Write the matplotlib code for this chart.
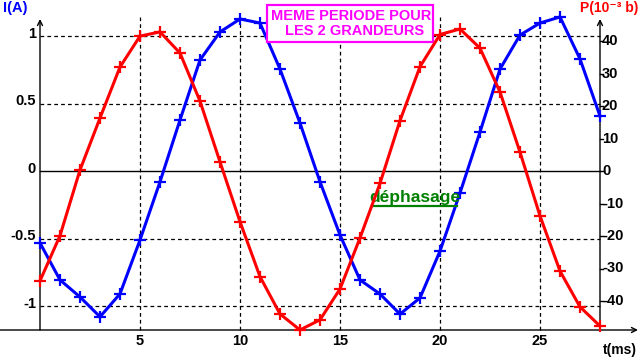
import matplotlib
matplotlib.use("Agg")
import matplotlib.pyplot as plt
from matplotlib.patches import Rectangle
import numpy as np

plt.rcParams['font.family'] = ['Liberation Sans', 'DejaVu Sans']
plt.rcParams['font.weight'] = 'bold'

# ---- data ----
t_ms = list(range(0, 29))
P_red = [-33.8, -19.9, 0.3, 16.3, 32.0, 41.5, 42.8, 36.3, 21.5, 2.8,
         -15.6, -32.5, -44.0, -48.9, -45.8, -36.3, -20.6, -3.8, 15.5, 32.1,
         42.0, 43.7, 37.8, 24.3, 5.8, -13.8, -30.8, -41.8, -47.7]
I_blue = [-0.533, -0.807, -0.933, -1.08, -0.91, -0.511, -0.08, 0.378, 0.822, 1.03,
          1.126, 1.096, 0.755, 0.355, -0.08, -0.474, -0.807, -0.911, -1.06, -0.94,
          -0.593, -0.163, 0.289, 0.755, 1.007, 1.096, 1.141, 0.83, 0.407]
x_ticks = [5, 10, 15, 20, 25]
I_ticks = [1, 0.5, 0, -0.5, -1]
I_tick_labels = ['1', '0.5', '0', '-0.5', '-1']
P_ticks = [40, 30, 20, 10, 0, -10, -20, -30, -40]
P_tick_labels = ['40', '30', '20', '10', '0', '-10', '-20', '-30', '-40']

# ---- layout helpers (pixel -> data) ----
W, H = 640, 360
def tx(px):
    return (px - 40) / 20.0
def iy(py):
    return (171 - py) / 135.0
K = 135 / 3.25  # P units per I unit

fig = plt.figure(figsize=(6.4, 3.6), dpi=100)
ax = fig.add_axes([0, 0, 1, 1])
ax.set_xlim(tx(0), tx(W))
ax.set_ylim(iy(H), iy(0))
ax.axis('off')
ax2 = ax.twinx()
ax2.set_ylim(iy(H) * K, iy(0) * K)
ax2.axis('off')

dash = (0, (3, 2.5))
# grid
for xv in x_ticks:
    ax.plot([xv, xv], [iy(330), iy(17)], color='black', lw=0.9, ls=dash, zorder=1)
for yv in [1, 0.5, -0.5, -1]:
    ax.plot([0, 28], [yv, yv], color='black', lw=0.9, ls=dash, zorder=1)

# axes lines
ax.plot([0, 28], [0, 0], color='black', lw=1.0, zorder=1)
arrow = dict(arrowstyle='->', lw=1.0, color='black', shrinkA=0, shrinkB=0, mutation_scale=9)
ax.annotate('', xy=(0, iy(19)), xytext=(0, iy(330)), arrowprops=arrow, zorder=2)
ax.annotate('', xy=(28, iy(19)), xytext=(28, iy(330)), arrowprops=arrow, zorder=2)
ax.annotate('', xy=(tx(638), iy(330)), xytext=(tx(0), iy(330)), arrowprops=arrow, zorder=2)

# curves
ax2.plot(t_ms, P_red, color='#ff0000', lw=2.2, zorder=3,
         marker='+', markersize=8, mew=1.6)
ax.plot(t_ms, I_blue, color='#0000ff', lw=2.2, zorder=4,
        marker='+', markersize=8, mew=1.6)

# tick labels
fs = 10.5
for v, lab in zip(I_ticks, I_tick_labels):
    ax.text(tx(36), v + 2.5 / 135, lab, ha='right', va='center', fontsize=fs,
            fontweight='bold', color='black')
for v, lab in zip(P_ticks, P_tick_labels):
    ax2.plot([28, tx(603)], [v, v], color='black', lw=1.0)
    ax2.text(tx(602), v, lab, ha='left', va='center', fontsize=fs,
             fontweight='bold', color='black')
for v in x_ticks:
    ax.text(v, iy(341), str(v), ha='center', va='center', fontsize=fs,
            fontweight='bold', color='black')

# axis titles
ax.text(tx(3), iy(8), 'I(A)', ha='left', va='center', fontsize=10.5,
        fontweight='bold', color='#0000ff')
ax.text(tx(638), iy(8), 'P(10⁻³ b)', ha='right', va='center', fontsize=10,
        fontweight='bold', color='#ff0000')
ax.text(tx(637), iy(350), 't(ms)', ha='right', va='center', fontsize=10,
        fontweight='bold', color='black')

# annotation box
ax.add_patch(Rectangle((tx(267), iy(42)), tx(433) - tx(267), iy(5) - iy(42),
                       facecolor='white', edgecolor='#ff00ff', lw=1.6, zorder=5))
ax.text(tx(351), iy(16), 'MEME PERIODE POUR', ha='center', va='center',
        fontsize=10.5, fontweight='bold', color='#ff00ff', zorder=6)
ax.text(tx(355), iy(31), 'LES 2 GRANDEURS', ha='center', va='center',
        fontsize=10.5, fontweight='bold', color='#ff00ff', zorder=6)

# dephasage
ax.text(tx(369), iy(197), 'déphasage', ha='left', va='center', fontsize=12.5,
        fontweight='bold', color='#008000', zorder=6)
ax.plot([tx(372), tx(457)], [iy(206), iy(206)], color='#008000', lw=1.6, zorder=6)

fig.savefig('out.png', dpi=100)
